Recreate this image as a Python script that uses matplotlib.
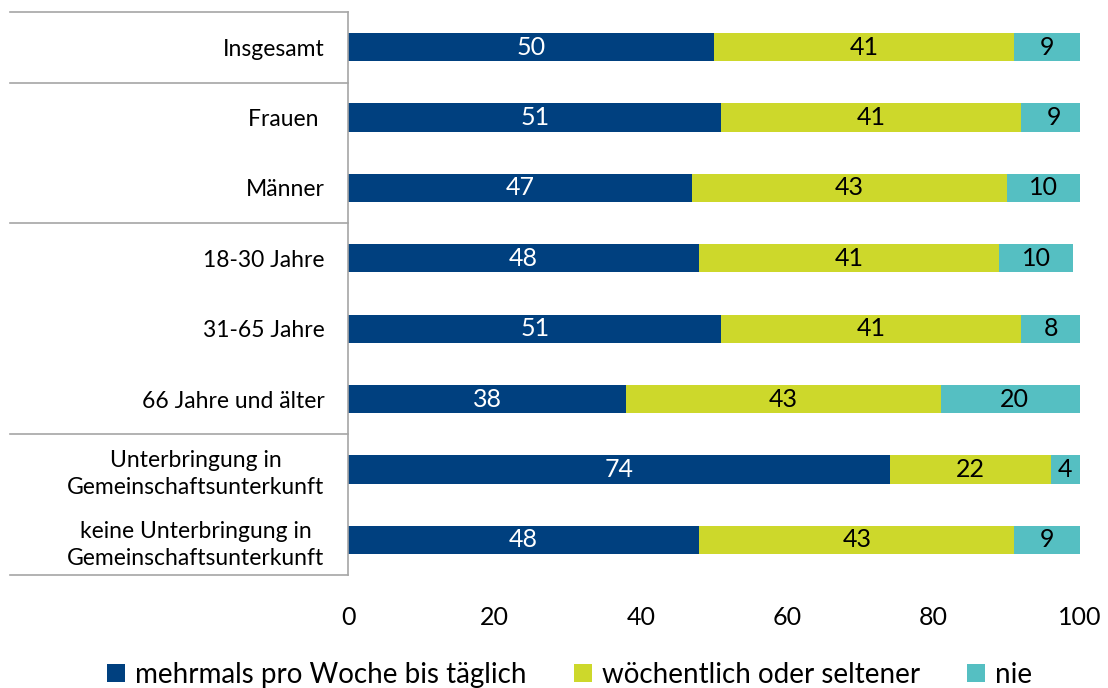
import matplotlib.pyplot as plt
from matplotlib.lines import Line2D
import numpy as np

plt.rcParams['font.family'] = ['Lato', 'DejaVu Sans']

categories = ['Insgesamt', 'Frauen ', 'Männer', '18-30 Jahre', '31-65 Jahre',
              '66 Jahre und älter', 'Unterbringung in\nGemeinschaftsunterkunft',
              'keine Unterbringung in\nGemeinschaftsunterkunft']
oft = [50, 51, 47, 48, 51, 38, 74, 48]
selten = [41, 41, 43, 41, 41, 43, 22, 43]
nie = [9, 9, 10, 10, 8, 20, 4, 9]

series_names = ['mehrmals pro Woche bis täglich', 'wöchentlich oder seltener', 'nie']
colors = ['#00407F', '#CDD82B', '#55BFC2']
text_colors = ['white', 'black', 'black']

W, H = 1108, 688
fig = plt.figure(figsize=(W / 100, H / 100), dpi=100)
ax = fig.add_axes([348 / W, 1 - 575 / H, (1080 - 348) / W, (575 - 12) / H])

y = np.arange(len(categories))
left = np.zeros(len(categories))
for vals, col, tc, name in zip([oft, selten, nie], colors, text_colors, series_names):
    vals = np.array(vals)
    bars = ax.barh(y, vals, left=left, height=0.4, color=col, label=name)
    for b, v in zip(bars, vals):
        ax.text(b.get_x() + b.get_width() / 2, b.get_y() + b.get_height() / 2, str(v),
                ha='center', va='center', color=tc, fontsize=18)
    left += vals

ax.set_xlim(0, 100)
ax.set_ylim(len(categories) - 0.5, -0.5)
ax.set_yticks(y)
ax.set_yticklabels(categories, fontsize=16.5, linespacing=1.35, multialignment='center')
ax.set_xticks([0, 20, 40, 60, 80, 100])
ax.tick_params(axis='x', length=0, labelsize=18, pad=22)
ax.tick_params(axis='y', length=0, pad=17)
for s in ['top', 'right', 'bottom']:
    ax.spines[s].set_visible(False)
ax.spines['left'].set_color('#A6A6A6')
ax.spines['left'].set_linewidth(1.2)

# Trennlinien der Gruppen links
for yy in [12, 83, 223, 434, 575]:
    fig.add_artist(Line2D([10 / W, 348 / W], [1 - yy / H, 1 - yy / H],
                          color='#A6A6A6', lw=1.2))

fig.legend(loc='lower center', bbox_to_anchor=(0.514, -0.036), ncol=3, frameon=False,
           fontsize=20, handlelength=0.65, handleheight=0.65, handletextpad=0.35,
           columnspacing=1.7)

fig.savefig('out.png', dpi=100)
